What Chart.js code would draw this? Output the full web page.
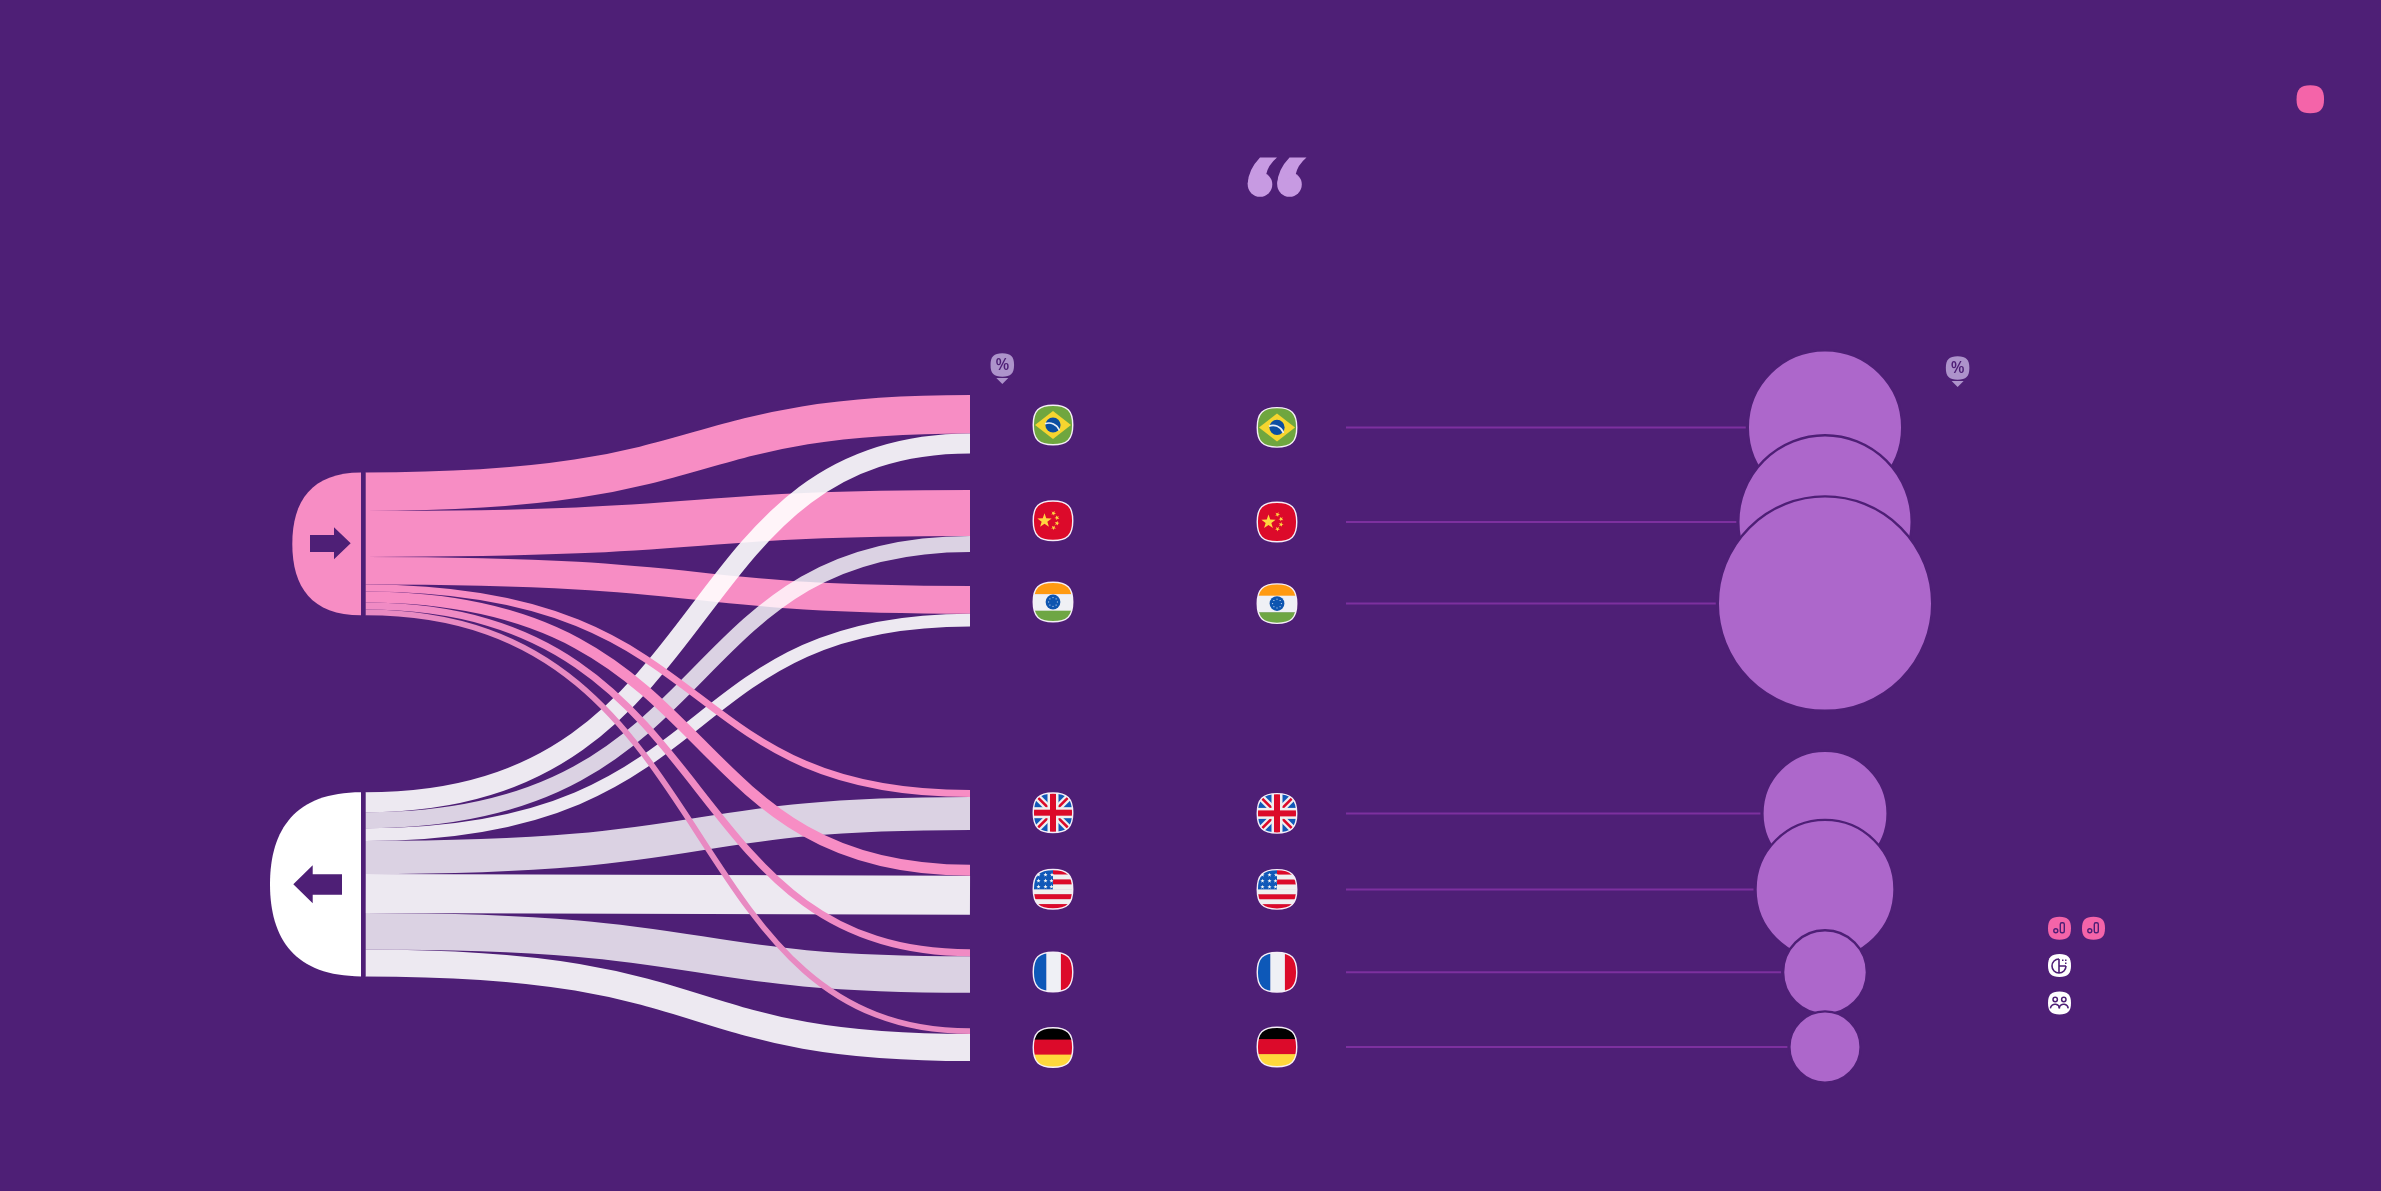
<!DOCTYPE html>
<html>
<head>
<meta charset="utf-8">
<title>Flows by country</title>
<style>
    html, body { margin: 0; padding: 0; background: #4e1f76; }
    canvas { display: block; }
</style>
<script src="https://cdn.jsdelivr.net/npm/chart.js@4"></script>
</head>
<body>
<canvas id="flowChart" width="2381" height="1191"></canvas>
<script>
const countries = ["Brazil", "China", "India", "United Kingdom", "United States", "France", "Germany"];

// ribbon thickness
const outFlow = [38.4, 46, 27.7, 7, 11, 7, 5.7];
const inFlow = [20, 16, 12.7, 33, 39, 36.4, 27];

// bubble sizes (area), estimated
const bubbleValues = [9.54, 12.03, 18.39, 6.27, 7.73, 2.81, 2.03];

// where things sit on the y axis
const outTop = 472.5;
const inTop = 792.3;
const rowTop = [395, 490, 586, 790, 864.7, 949.3, 1028.3];
const leftFlagY = [425, 520.7, 602, 812.7, 889.3, 972, 1047.5];
const rowY = [427.4, 522, 603.6, 813.4, 889.4, 972.2, 1047];

const BG = "#4e1f76";
const PINK = "#f78dc4";
const BUBBLE_X = 1825;

function bubbleRadius(value) {
    return 25 * Math.sqrt(value);
}

function squircle(ctx, cx, cy, w, h) {
    const k = 0.36;
    const rx = w / 2;
    const ry = h / 2;
    ctx.beginPath();
    ctx.moveTo(cx, cy - ry);
    ctx.bezierCurveTo(cx + w * k, cy - ry, cx + rx, cy - h * k, cx + rx, cy);
    ctx.bezierCurveTo(cx + rx, cy + h * k, cx + w * k, cy + ry, cx, cy + ry);
    ctx.bezierCurveTo(cx - w * k, cy + ry, cx - rx, cy + h * k, cx - rx, cy);
    ctx.bezierCurveTo(cx - rx, cy - h * k, cx - w * k, cy - ry, cx, cy - ry);
    ctx.closePath();
}

// a ribbon is one thick stroke along its centre line, so it keeps its width on the steep part
function ribbon(chart, y0, y1, h, color) {
    const ctx = chart.ctx;
    const x = chart.scales.x;
    const y = chart.scales.y;
    const xa = x.getPixelForValue(365.5);
    const xb = x.getPixelForValue(970);
    const c1 = xa + (xb - xa) * 0.6;
    const c2 = xa + (xb - xa) * 0.5;
    const a = y.getPixelForValue(y0 + h / 2);
    const b = y.getPixelForValue(y1 + h / 2);
    ctx.beginPath();
    ctx.moveTo(xa, a);
    ctx.bezierCurveTo(c1, a, c2, b, xb, b);
    ctx.lineCap = "butt";
    ctx.lineWidth = y.getPixelForValue(y0 + h) - y.getPixelForValue(y0);
    ctx.strokeStyle = color;
    ctx.stroke();
}

function drawRibbons(chart) {
    const pinkStart = [];
    const whiteStart = [];
    let p = outTop;
    let w = inTop;
    countries.forEach((c, i) => {
        pinkStart.push(p);
        whiteStart.push(w);
        p += outFlow[i];
        w += inFlow[i];
    });
    for (let i = 0; i < 3; i++) {
        ribbon(chart, pinkStart[i], rowTop[i], outFlow[i], PINK);
    }
    countries.forEach((c, i) => {
        const color = i % 2 === 0 ? "rgba(255,255,255,0.9)" : "rgba(255,255,255,0.8)";
        ribbon(chart, whiteStart[i], rowTop[i] + outFlow[i], inFlow[i], color);
    });
    const thinColors = [PINK, PINK, "#f08bc4", "#e88ac2"];
    for (let i = 3; i < 7; i++) {
        ribbon(chart, pinkStart[i], rowTop[i], outFlow[i], thinColors[i - 3]);
    }
}

function drawNode(ctx, left, top, bottom, color) {
    const right = 361;
    const mid = (top + bottom) / 2;
    const h = bottom - top;
    const w = right - left;
    ctx.beginPath();
    ctx.moveTo(right, top);
    ctx.bezierCurveTo(right - w * 0.72, top, left, top + h * 0.2, left, mid);
    ctx.bezierCurveTo(left, bottom - h * 0.2, right - w * 0.72, bottom, right, bottom);
    ctx.closePath();
    ctx.fillStyle = color;
    ctx.fill();
    ctx.fillStyle = BG;
    ctx.fillRect(right, top, 4.4, h);
}

function drawNodes(chart) {
    const ctx = chart.ctx;
    const y = chart.scales.y;
    const outBottom = outTop + outFlow.reduce((a, b) => a + b, 0);
    const inBottom = inTop + inFlow.reduce((a, b) => a + b, 0);
    drawNode(ctx, 292.3, y.getPixelForValue(outTop), y.getPixelForValue(outBottom), PINK);
    drawNode(ctx, 270, y.getPixelForValue(inTop), y.getPixelForValue(inBottom), "#ffffff");

    ctx.fillStyle = BG;
    ctx.beginPath();
    ctx.moveTo(310, 535);
    ctx.lineTo(334, 535);
    ctx.lineTo(334, 527.3);
    ctx.lineTo(350.7, 543.3);
    ctx.lineTo(334, 559.3);
    ctx.lineTo(334, 552);
    ctx.lineTo(310, 552);
    ctx.closePath();
    ctx.fill();

    ctx.beginPath();
    ctx.moveTo(342, 874.3);
    ctx.lineTo(312.7, 874.3);
    ctx.lineTo(312.7, 865.3);
    ctx.lineTo(293.3, 884.3);
    ctx.lineTo(312.7, 903.3);
    ctx.lineTo(312.7, 894.7);
    ctx.lineTo(342, 894.7);
    ctx.closePath();
    ctx.fill();
}

function star(ctx, cx, cy, r, rot, color) {
    ctx.beginPath();
    for (let i = 0; i < 10; i++) {
        const rad = i % 2 === 0 ? r : r * 0.4;
        const a = -Math.PI / 2 + rot + i * Math.PI / 5;
        const px = cx + Math.cos(a) * rad;
        const py = cy + Math.sin(a) * rad;
        if (i === 0) ctx.moveTo(px, py);
        else ctx.lineTo(px, py);
    }
    ctx.closePath();
    ctx.fillStyle = color;
    ctx.fill();
}

function bands(ctx, x, y, s, list, vertical) {
    let at = 0;
    list.forEach(b => {
        ctx.fillStyle = b[0];
        if (vertical) ctx.fillRect(x + at * s, y, b[1] * s + 0.5, s);
        else ctx.fillRect(x, y + at * s, s, b[1] * s + 0.5);
        at += b[1];
    });
}

const flagPainters = {
    "Brazil": (ctx, cx, cy, s) => {
        ctx.fillStyle = "#6fa63f";
        ctx.fillRect(cx - s / 2, cy - s / 2, s, s);
        ctx.fillStyle = "#f6d52f";
        ctx.beginPath();
        ctx.moveTo(cx, cy - 14);
        ctx.lineTo(cx + 18, cy);
        ctx.lineTo(cx, cy + 14);
        ctx.lineTo(cx - 18, cy);
        ctx.closePath();
        ctx.fill();
        ctx.fillStyle = "#0b4ea2";
        ctx.beginPath();
        ctx.arc(cx, cy, 7.6, 0, Math.PI * 2);
        ctx.fill();
        ctx.strokeStyle = "#e8eef6";
        ctx.lineWidth = 1.6;
        ctx.beginPath();
        ctx.arc(cx - 4, cy + 9, 11, -Math.PI * 0.62, -Math.PI * 0.1);
        ctx.stroke();
    },
    "China": (ctx, cx, cy, s) => {
        ctx.fillStyle = "#dc0a2a";
        ctx.fillRect(cx - s / 2, cy - s / 2, s, s);
        star(ctx, cx - 8.5, cy, 7.5, 0, "#ffd640");
        star(ctx, cx + 0.5, cy - 7.5, 2.6, 0.4, "#ffd640");
        star(ctx, cx + 4, cy - 3, 2.6, 0.8, "#ffd640");
        star(ctx, cx + 4, cy + 2.5, 2.6, 0.2, "#ffd640");
        star(ctx, cx + 0.5, cy + 7, 2.6, 0.6, "#ffd640");
    },
    "India": (ctx, cx, cy, s) => {
        bands(ctx, cx - s / 2, cy - s / 2, s, [["#ff9a12", 0.3], ["#eff0f5", 0.42], ["#6ea644", 0.28]], false);
        ctx.fillStyle = "#0d55b0";
        ctx.beginPath();
        ctx.arc(cx, cy, 7.4, 0, Math.PI * 2);
        ctx.fill();
        ctx.fillStyle = "#cfe0f4";
        for (let i = 0; i < 8; i++) {
            const a = i * Math.PI / 4;
            ctx.fillRect(cx + Math.cos(a) * 4.4 - 0.5, cy + Math.sin(a) * 4.4 - 0.5, 1, 1);
        }
    },
    "United Kingdom": (ctx, cx, cy, s) => {
        ctx.fillStyle = "#1058b8";
        ctx.fillRect(cx - s / 2, cy - s / 2, s, s);
        const h = s / 2;
        ctx.lineCap = "butt";
        [[-1, -1, 1, 1], [-1, 1, 1, -1]].forEach(d => {
            ctx.strokeStyle = "#f0f0f0";
            ctx.lineWidth = 7;
            ctx.beginPath();
            ctx.moveTo(cx + d[0] * h, cy + d[1] * h);
            ctx.lineTo(cx + d[2] * h, cy + d[3] * h);
            ctx.stroke();
            ctx.strokeStyle = "#dc0a2a";
            ctx.lineWidth = 2.6;
            ctx.stroke();
        });
        ctx.fillStyle = "#f0f0f0";
        ctx.fillRect(cx - 5.5, cy - h, 11, s);
        ctx.fillRect(cx - h, cy - 5.5, s, 11);
        ctx.fillStyle = "#dc0a2a";
        ctx.fillRect(cx - 3, cy - h, 6, s);
        ctx.fillRect(cx - h, cy - 3, s, 6);
    },
    "United States": (ctx, cx, cy, s) => {
        const x = cx - s / 2;
        const y = cy - s / 2;
        bands(ctx, x, y, s, [["#dc0a2a", 0.125], ["#f0f0f0", 0.125], ["#dc0a2a", 0.125], ["#f0f0f0", 0.125],
            ["#f0f0f0", 0.125], ["#dc0a2a", 0.125], ["#f0f0f0", 0.125], ["#dc0a2a", 0.125]], false);
        ctx.fillStyle = "#1058b8";
        ctx.fillRect(x, y, s * 0.5, s * 0.5);
        [[-15, -14], [-8, -14], [-1.5, -14], [-15, -8], [-8, -8], [-15, -2], [-8, -2], [-2, -8], [-2, -2]].forEach(p => {
            star(ctx, cx + p[0] + 0.5, cy + p[1] - 0.5, 2.2, 0, "#f4f4f4");
        });
    },
    "France": (ctx, cx, cy, s) => {
        bands(ctx, cx - s / 2, cy - s / 2, s, [["#0d58b8", 0.33], ["#eff0f5", 0.37], ["#dc0a2a", 0.3]], true);
    },
    "Germany": (ctx, cx, cy, s) => {
        bands(ctx, cx - s / 2, cy - s / 2, s, [["#000000", 0.3], ["#dc0a2a", 0.38], ["#ffd83c", 0.32]], false);
    }
};

function drawFlag(ctx, name, cx, cy) {
    const s = 39.5;
    ctx.save();
    squircle(ctx, cx, cy, s, s);
    ctx.clip();
    flagPainters[name](ctx, cx, cy, s);
    ctx.restore();
    squircle(ctx, cx, cy, s, s);
    ctx.strokeStyle = "#f6eef8";
    ctx.lineWidth = 1.4;
    ctx.stroke();
}

function drawFlags(chart) {
    const ctx = chart.ctx;
    const x = chart.scales.x;
    const y = chart.scales.y;
    countries.forEach((name, i) => {
        drawFlag(ctx, name, x.getPixelForValue(1053), y.getPixelForValue(leftFlagY[i]));
        drawFlag(ctx, name, x.getPixelForValue(1277), y.getPixelForValue(rowY[i]));
    });
}

function drawBadge(ctx, cx, cy) {
    ctx.fillStyle = "#ad93cb";
    squircle(ctx, cx, cy, 23.5, 23.5);
    ctx.fill();
    ctx.beginPath();
    ctx.moveTo(cx - 6, cy + 13);
    ctx.lineTo(cx + 6, cy + 13);
    ctx.lineTo(cx, cy + 19);
    ctx.closePath();
    ctx.fill();
    ctx.fillStyle = BG;
    ctx.font = "600 16px 'Open Sans'";
    ctx.textAlign = "center";
    ctx.textBaseline = "middle";
    ctx.fillText("%", cx, cy + 0.5);
}

function drawQuote(ctx, ox) {
    ctx.fillStyle = "#c79ae2";
    ctx.beginPath();
    ctx.arc(ox + 13, 184.5, 12.3, 0, Math.PI * 2);
    ctx.fill();
    ctx.beginPath();
    ctx.moveTo(ox + 0.7, 184);
    ctx.quadraticCurveTo(ox + 1, 170, ox + 13, 157.5);
    ctx.lineTo(ox + 30, 157.5);
    ctx.quadraticCurveTo(ox + 21, 165, ox + 19, 175);
    ctx.closePath();
    ctx.fill();
}

function drawBars(ctx, cx, cy) {
    ctx.fillStyle = "#f464a9";
    squircle(ctx, cx, cy, 23, 23);
    ctx.fill();
    ctx.strokeStyle = BG;
    ctx.lineWidth = 1.4;
    ctx.beginPath();
    ctx.arc(cx - 3.7, cy + 2.4, 2, 0, Math.PI * 2);
    ctx.stroke();
    ctx.beginPath();
    ctx.roundRect(cx + 0.8, cy - 5.5, 4, 10, 1.5);
    ctx.stroke();
}

function drawLegendIcons(ctx) {
    drawBars(ctx, 2059.5, 928.3);
    drawBars(ctx, 2093.5, 928.3);

    ctx.fillStyle = "#ffffff";
    squircle(ctx, 2059.5, 965.6, 23, 23);
    ctx.fill();
    ctx.strokeStyle = BG;
    ctx.lineWidth = 1.6;
    ctx.beginPath();
    ctx.arc(2059, 966, 7, 0, Math.PI * 1.5);
    ctx.moveTo(2059, 959);
    ctx.lineTo(2059, 973);
    ctx.moveTo(2059, 966);
    ctx.lineTo(2066, 966);
    ctx.stroke();
    ctx.fillStyle = BG;
    ctx.fillRect(2062, 959.5, 1.5, 1.5);
    ctx.fillRect(2065, 959.5, 1.5, 1.5);
    ctx.fillRect(2065, 962.5, 1.5, 1.5);

    ctx.fillStyle = "#ffffff";
    squircle(ctx, 2059.5, 1003, 23, 23);
    ctx.fill();
    ctx.strokeStyle = BG;
    ctx.lineWidth = 1.5;
    [2055.2, 2063.8].forEach(px => {
        ctx.beginPath();
        ctx.arc(px, 999.5, 2.2, 0, Math.PI * 2);
        ctx.stroke();
        ctx.beginPath();
        ctx.arc(px - 0.2, 1009, 4.7, Math.PI * 1.05, Math.PI * 1.95);
        ctx.stroke();
    });
}

const ribbonPlugin = {
    id: "ribbons",
    beforeDatasetsDraw(chart) {
        drawRibbons(chart);
        drawNodes(chart);
    },
    afterDatasetsDraw(chart) {
        const ctx = chart.ctx;
        drawFlags(chart);
        drawBadge(ctx, 1002.3, 365);
        drawBadge(ctx, 1957.6, 368);
        drawQuote(ctx, 1247);
        drawQuote(ctx, 1276.5);
        ctx.fillStyle = "#f464a9";
        squircle(ctx, 2310.3, 99.2, 27.5, 28);
        ctx.fill();
        drawLegendIcons(ctx);
    }
};

const leaderSets = countries.map((name, i) => ({
    type: "line",
    label: name + " leader",
    data: [
        { x: 1346, y: rowY[i] },
        { x: BUBBLE_X - bubbleRadius(bubbleValues[i]) - 2, y: rowY[i] }
    ],
    borderColor: "#7d309f",
    borderWidth: 2,
    pointRadius: 0,
    order: 2
}));

new Chart(document.getElementById("flowChart").getContext("2d"), {
    type: "bubble",
    data: {
        datasets: [{
            label: "Share",
            data: countries.map((name, i) => ({ x: BUBBLE_X, y: rowY[i], r: bubbleRadius(bubbleValues[i]) })),
            backgroundColor: "#ad67cb",
            borderColor: BG,
            borderWidth: 2.4,
            order: 1
        }, ...leaderSets]
    },
    plugins: [ribbonPlugin],
    options: {
        responsive: false,
        devicePixelRatio: 1,
        animation: false,
        events: [],
        layout: { padding: 0, autoPadding: false },
        plugins: { legend: { display: false }, tooltip: { enabled: false } },
        scales: {
            x: { type: "linear", min: 0, max: 2381, display: false },
            y: { type: "linear", min: 0, max: 1191, reverse: true, display: false }
        }
    }
});
</script>
</body>
</html>
